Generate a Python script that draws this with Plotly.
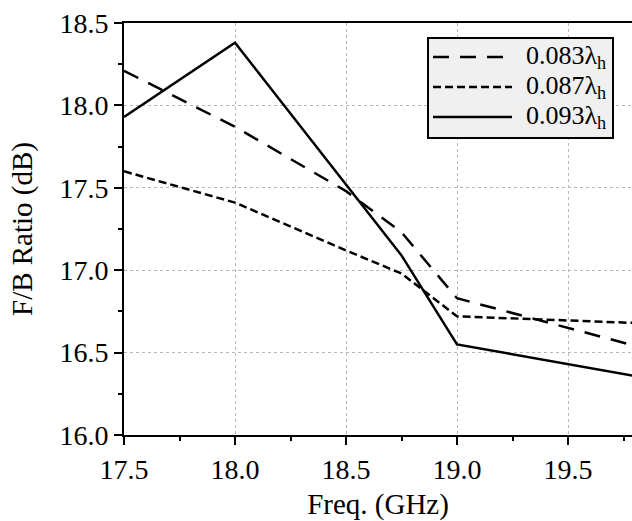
import plotly.graph_objects as go

# Front-to-back ratio versus frequency for three substrate heights
freq = [17.5, 18.0, 18.5, 18.75, 19.0, 20.0]
fb_083 = [18.21, 17.87, 17.48, 17.23, 16.83, 16.47]
fb_087 = [17.60, 17.41, 17.12, 16.98, 16.72, 16.67]
fb_093 = [17.93, 18.38, 17.52, 17.09, 16.55, 16.31]

names = ["0.083λ<sub>h</sub>", "0.087λ<sub>h</sub>", "0.093λ<sub>h</sub>"]
series = [fb_083, fb_087, fb_093]
dashes = ["16px,11px", "8px,4px", "solid"]

FONT = "Liberation Serif, Times New Roman, serif"
W, H = 632, 521
L, R, T, B = 124, 0, 23, 86

fig = go.Figure()
for name, vals, dash in zip(names, series, dashes):
    fig.add_trace(go.Scatter(
        x=freq, y=vals, name=name, mode="lines",
        line=dict(color="black", width=2.5, dash=dash),
        showlegend=False,
    ))

# Legend box drawn in paper coordinates
pw, ph = W - L - R, H - T - B
def px_x(v):
    return (v - L) / pw
def px_y(v):
    return (H - B - v) / ph

fig.add_shape(type="rect", xref="paper", yref="paper",
              x0=px_x(428), x1=px_x(613), y0=px_y(138), y1=px_y(38),
              fillcolor="#f0f0f0", line=dict(color="black", width=2), layer="above")
rows = [57, 87, 117]
for yy, name, dash in zip(rows, names, dashes):
    fig.add_shape(type="line", xref="paper", yref="paper",
                  x0=px_x(433), x1=px_x(512), y0=px_y(yy), y1=px_y(yy),
                  line=dict(color="black", width=2.5, dash=dash), layer="above")
    fig.add_annotation(xref="paper", yref="paper", x=px_x(524), y=px_y(yy),
                       text=name, showarrow=False, xanchor="left", yanchor="middle",
                       font=dict(family=FONT, size=26, color="black"))

axis_common = dict(
    showline=True, linecolor="black", linewidth=2,
    ticks="outside", ticklen=8, tickwidth=2, tickcolor="black",
    showgrid=True, gridcolor="#b8b8b8", griddash="dot", gridwidth=1,
    zeroline=False, tickformat=".1f", automargin=False,
    tickfont=dict(family=FONT, size=28, color="black"),
)

fig.update_layout(
    width=W, height=H,
    margin=dict(l=L, r=R, t=T, b=B),
    paper_bgcolor="white", plot_bgcolor="white",
    font=dict(family=FONT, size=29, color="black"),
    xaxis=dict(range=[17.5, 17.5 + 508 / 222], dtick=0.5, tick0=17.5,
               mirror=True,
               minor=dict(dtick=0.25, ticks="outside", ticklen=4, tickwidth=2,
                          tickcolor="black", showgrid=False),
               title=dict(text="Freq. (GHz)", standoff=18,
                          font=dict(family=FONT, size=29)),
               **axis_common),
    yaxis=dict(range=[16.0, 18.5], dtick=0.5, tick0=16.0,
               minor=dict(dtick=0.25, ticks="outside", ticklen=4, tickwidth=2,
                          tickcolor="black", showgrid=False),
               title=dict(text="F/B Ratio (dB)", standoff=18,
                          font=dict(family=FONT, size=29)),
               **axis_common),
)

fig.write_html("out.html")
